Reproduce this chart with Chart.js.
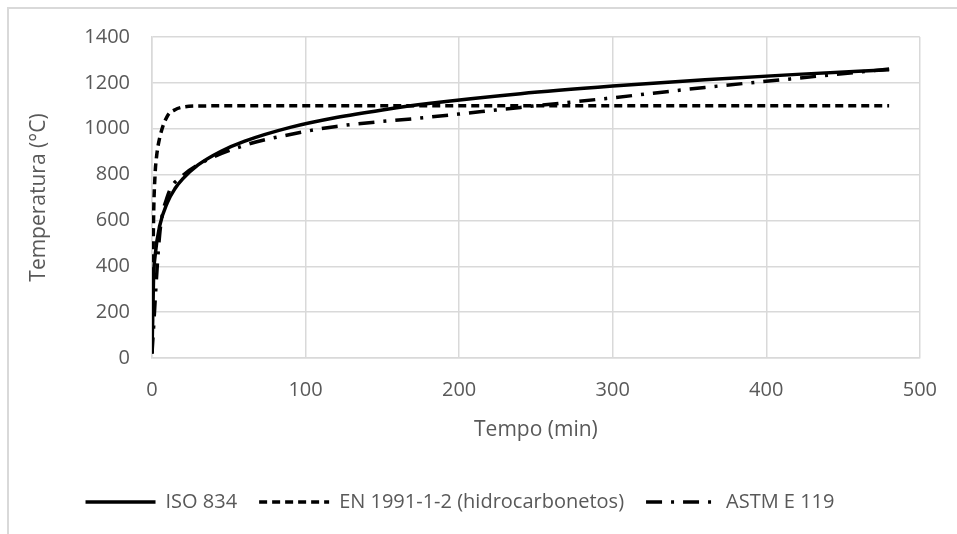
<!DOCTYPE html>
<html>
<head>
<meta charset="utf-8">
<script src="https://cdn.jsdelivr.net/npm/chart.js@4/dist/chart.umd.min.js"></script>
<style>
  html, body { margin: 0; padding: 0; background: #fff; overflow: hidden; }
  #wrap { position: relative; width: 957px; height: 534px; }
  #frame { position: absolute; left: 7px; top: 7px; width: 1000px; height: 600px; border: 2px solid #d9d9d9; box-sizing: border-box; }
  canvas { position: absolute; left: 0; top: 0; }
</style>
</head>
<body>
<div id="wrap">
  <div id="frame"></div>
  <canvas id="chart" width="957" height="534"></canvas>
</div>
<script>
// tempos (min) e temperaturas (°C)
const isoTime = [0, 1, 2, 5, 10, 15, 20, 30, 45, 60, 90, 120, 150, 180, 240, 300, 360, 420, 480];
const isoTemp = [20, 349, 445, 576, 678, 739, 781, 842, 902, 945, 1006, 1049, 1082, 1110, 1153, 1186, 1214, 1237, 1257];

const hcTime = [0, 1, 2, 3, 5, 10, 15, 20, 30, 60, 120, 240, 480];
const hcTemp = [20, 600, 800, 880, 960, 1055, 1083, 1094, 1099, 1100, 1100, 1100, 1100];

const astmTime = [0, 5, 10, 20, 30, 60, 90, 120, 180, 240, 300, 360, 420, 480];
const astmTemp = [20, 538, 704, 795, 843, 927, 975, 1010, 1050, 1093, 1135, 1180, 1220, 1260];

const xTicks = [0, 100, 200, 300, 400, 500];

const toPoints = (xs, ys) => xs.map((x, i) => ({ x, y: ys[i] }));

const txt = "#595959";
const grid = "#d9d9d9";
const font = "'Open Sans', 'Liberation Sans', sans-serif";

new Chart(document.getElementById("chart"), {
  type: "line",
  data: {
    datasets: [
      {
        label: "ISO 834",
        data: toPoints(isoTime, isoTemp),
        borderColor: "#000",
        backgroundColor: "#000",
        borderWidth: 3.5,
        pointRadius: 0,
        cubicInterpolationMode: "monotone"
      },
      {
        label: "EN 1991-1-2 (hidrocarbonetos)",
        data: toPoints(hcTime, hcTemp),
        borderColor: "#000",
        backgroundColor: "#000",
        borderWidth: 3.5,
        borderDash: [8, 5],
        pointRadius: 0,
        cubicInterpolationMode: "monotone"
      },
      {
        label: "ASTM E 119",
        data: toPoints(astmTime, astmTemp),
        borderColor: "#000",
        backgroundColor: "#000",
        borderWidth: 3.5,
        borderDash: [16, 9, 3, 9],
        pointRadius: 0,
        cubicInterpolationMode: "monotone"
      }
    ]
  },
  options: {
    responsive: false,
    animation: false,
    layout: { padding: { left: 0, right: 37, top: 37, bottom: 12 } },
    plugins: {
      tooltip: { enabled: false },
      legend: {
        position: "bottom",
        labels: {
          color: txt,
          font: { family: font, size: 20 },
          usePointStyle: true,
          pointStyle: "line",
          pointStyleWidth: 70,
          boxWidth: 70,
          boxHeight: 14,
          padding: 22,
          // traço da legenda igual ao da série
          generateLabels: (chart) => chart.data.datasets.map((ds, i) => ({
            text: ds.label,
            datasetIndex: i,
            fillStyle: "#000",
            strokeStyle: "#000",
            lineWidth: 3.5,
            lineDash: ds.borderDash || [],
            pointStyle: "line",
            fontColor: txt,
            hidden: false
          }))
        }
      }
    },
    scales: {
      x: {
        type: "linear",
        min: 0,
        max: 500,
        afterBuildTicks: (scale) => { scale.ticks = xTicks.map(v => ({ value: v })); },
        ticks: { color: txt, font: { family: font, size: 20 }, padding: 20, maxRotation: 0 },
        grid: { color: grid, lineWidth: 1.5, drawTicks: false },
        border: { color: grid, width: 1.5 },
        title: { display: true, text: "Tempo (min)", color: txt, font: { family: font, size: 21 }, padding: { top: 8, bottom: 27 } },
        afterFit: (scale) => { scale.height = 112; }
      },
      y: {
        min: 0,
        max: 1400,
        ticks: { stepSize: 200, color: txt, font: { family: font, size: 20 }, padding: 22, callback: (v) => String(v) },
        grid: { color: grid, lineWidth: 1.5, drawTicks: false },
        border: { color: grid, width: 1.5 },
        title: { display: true, text: "Temperatura (°C)", color: txt, font: { family: font, size: 21 }, padding: { top: 26, bottom: 0 } },
        afterFit: (scale) => { scale.width = 152; }
      }
    }
  }
});
</script>
</body>
</html>
